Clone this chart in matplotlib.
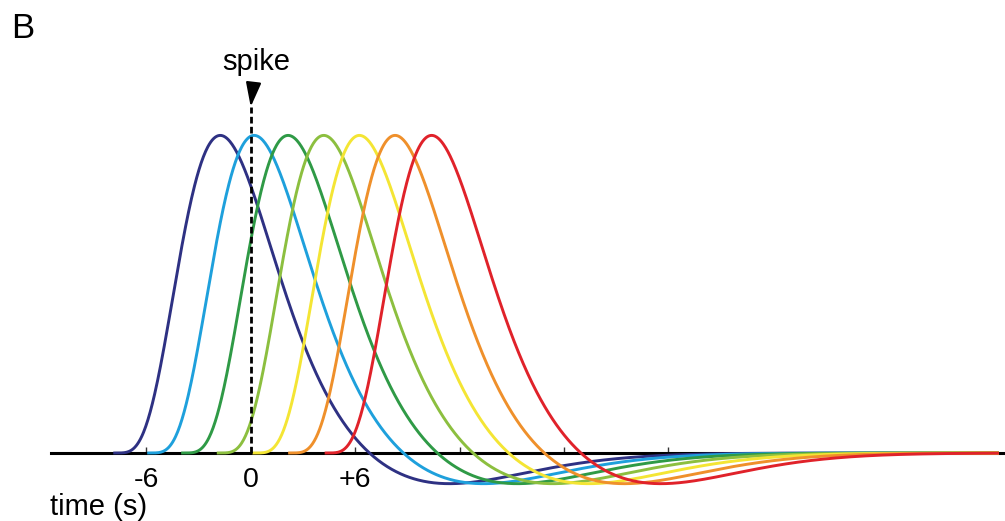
import math
import numpy as np
import matplotlib
matplotlib.use('Agg')
import matplotlib.pyplot as plt

plt.rcParams['font.family'] = ['Liberation Sans', 'DejaVu Sans']

onsets = [-7.9, -5.95, -4.0, -1.95, 0.1, 2.15, 4.25]
colors = ['#2e3183', '#1ea0dc', '#2f9a46', '#8cbf3f', '#f4e534', '#ef902b', '#e0222a']
# double-gamma response shape (peak ~6 s after onset, shallow undershoot)
shape_peak, shape_under, time_scale, under_ratio = 6, 16, 1.23, 0.18
t_end = 43.0
tick_pos = [-6, 0, 6, 12, 18, 24]
tick_lab = ['-6', '0', '+6', '', '', '']


def gpdf(t, a, b):
    return t ** (a - 1) * np.exp(-t / b) / (math.gamma(a) * b ** a)


def hrf(t):
    h = gpdf(t, shape_peak, time_scale) - under_ratio * gpdf(t, shape_under, time_scale)
    return h


norm = hrf(np.linspace(0, 30, 3001)).max()

fig = plt.figure(figsize=(10.05, 5.21), dpi=100)
ax = fig.add_axes([0, 0, 1, 1])

for on, c in zip(onsets, colors):
    tt = np.linspace(0, t_end - on, 1200)
    ax.plot(tt + on, hrf(tt) / norm, color=c, lw=2.1, zorder=3, solid_capstyle='butt')

# spike marker
ax.plot([0, 0], [0, 1.09], color='black', lw=2.0, dashes=(2.4, 1.2), zorder=4)
ax.annotate('spike', xy=(0, 1.09), xytext=(0.3, 1.205), ha='center', va='baseline',
            fontsize=21,
            arrowprops=dict(arrowstyle='-|>,head_length=0.7,head_width=0.22', color='black',
                            lw=1.6, shrinkA=3, shrinkB=0))

ax.set_xlim(-14.41, 43.35)
ax.set_ylim(-0.2141, 1.4263)
for s in ['top', 'right', 'left']:
    ax.spines[s].set_visible(False)
ax.spines['bottom'].set_position(('data', 0))
ax.spines['bottom'].set_bounds(-11.5, 43.35)
ax.spines['bottom'].set_linewidth(2.2)
ax.spines['bottom'].set_zorder(2)
ax.set_yticks([])
ax.set_xticks(tick_pos)
ax.set_xticklabels(tick_lab)
ax.tick_params(axis='x', direction='in', length=4.5, width=1.0, color='#333333',
               labelsize=20.5, pad=10)

fig.text(50 / 1005, 6 / 521, 'time (s)', fontsize=21, va='baseline', ha='left')
fig.text(11 / 1005, 1 - 37.5 / 521, 'B', fontsize=25, va='baseline', ha='left')

plt.savefig('out.png', dpi=100)
